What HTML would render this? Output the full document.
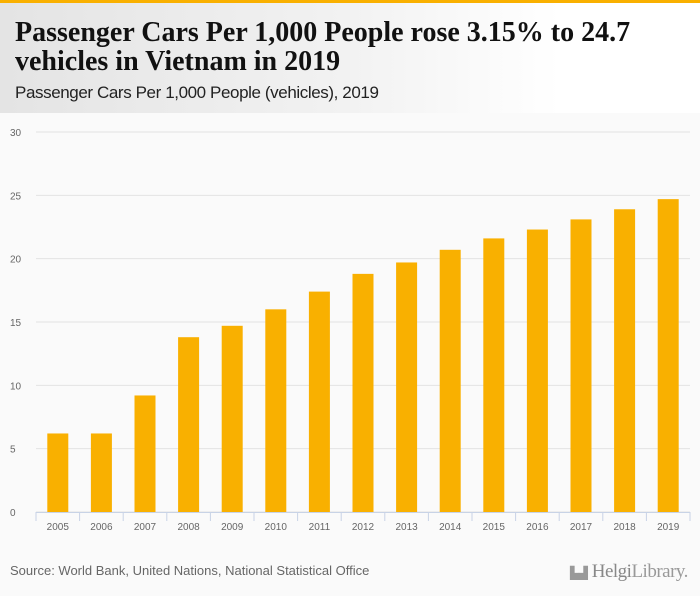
<!DOCTYPE html>
<html><head><meta charset="utf-8"><style>
body{margin:0;width:700px;height:596px;background:#fafafa;font-family:"Liberation Sans","DejaVu Sans",sans-serif;overflow:hidden;position:relative}
#topbar{position:absolute;left:0;top:0;width:700px;height:3px;background:#f9b000}
#header{position:absolute;left:0;top:3px;width:700px;height:110px;background:linear-gradient(90deg,#e4e4e4 0%,#f2f2f2 50%,#fff 80%)}
#title{position:absolute;left:15px;top:15px;font-family:"Liberation Serif",serif;font-weight:bold;font-size:28px;line-height:29px;color:#111;letter-spacing:0px;white-space:nowrap}
#subtitle{position:absolute;left:15px;top:80px;font-size:17px;color:#222;letter-spacing:-0.4px}
#source{position:absolute;left:10px;top:563px;font-size:13px;color:#666}
#logo{position:absolute;left:570px;top:561px;font-family:"Liberation Serif",serif;font-size:19px;color:#999;white-space:nowrap;letter-spacing:-0.5px}
</style></head><body>
<div id="topbar"></div>
<div id="header">
<div id="title">Passenger Cars Per 1,000 People rose 3.15% to 24.7<br>vehicles in Vietnam in 2019</div>
<div id="subtitle">Passenger Cars Per 1,000 People (vehicles), 2019</div>
</div>
<svg id="chart" width="700" height="596" style="position:absolute;left:0;top:0"></svg>
<div id="source">Source: World Bank, United Nations, National Statistical Office</div>
<div id="logo"><span style="font-size:12px;font-family:'DejaVu Sans'">▙▟</span> <span style="color:#888">Helgi</span>Library.</div>
<script>
const categories=["2005","2006","2007","2008","2009","2010","2011","2012","2013","2014","2015","2016","2017","2018","2019"];
const values=[6.2,6.2,9.2,13.8,14.7,16.0,17.4,18.8,19.7,20.7,21.6,22.3,23.1,23.9,24.7];
const yTicks=[0,5,10,15,20,25,30];
const svg=document.getElementById('chart');
const NS='http://www.w3.org/2000/svg';
const x0=36,x1=690,yb=512,yt=132,ymax=30;
const bw=(x1-x0)/categories.length;
const y=v=>yb-(v/ymax)*(yb-yt);
const xc=i=>x0+bw*(i+0.5);
function mk(t,a){const e=document.createElementNS(NS,t);for(const k in a)e.setAttribute(k,a[k]);svg.appendChild(e);return e;}
yTicks.forEach(t=>{
 const l=mk('line',{x1:x0,x2:x1,y1:y(t),y2:y(t),stroke:'#e3e3e3','stroke-width':1});
 
 
 const tx=mk('text',{x:10,y:y(t)+4,'font-size':10,fill:'#666','font-family':'Liberation Sans, sans-serif'});
 tx.textContent=t;
 
 
});
values.forEach((v,i)=>{
 const r=mk('rect',{x:xc(i)-10.5,y:y(v),width:21,height:yb-y(v),fill:'#f9b000'});
 
 
 const tx=mk('text',{x:xc(i),y:530,'font-size':10,fill:'#666','text-anchor':'middle','font-family':'Liberation Sans, sans-serif'});
 tx.textContent=categories[i];
 
 
});
const ax=mk('line',{x1:x0,x2:x1,y1:yb+0.5,y2:yb+0.5,stroke:'#c8d3e6'});


for(let i=0;i<=categories.length;i++){
 const tk=mk('line',{x1:x0+bw*i,x2:x0+bw*i,y1:yb,y2:yb+9,stroke:'#c8d3e6'});
 
 
}
</script>
</body></html>
